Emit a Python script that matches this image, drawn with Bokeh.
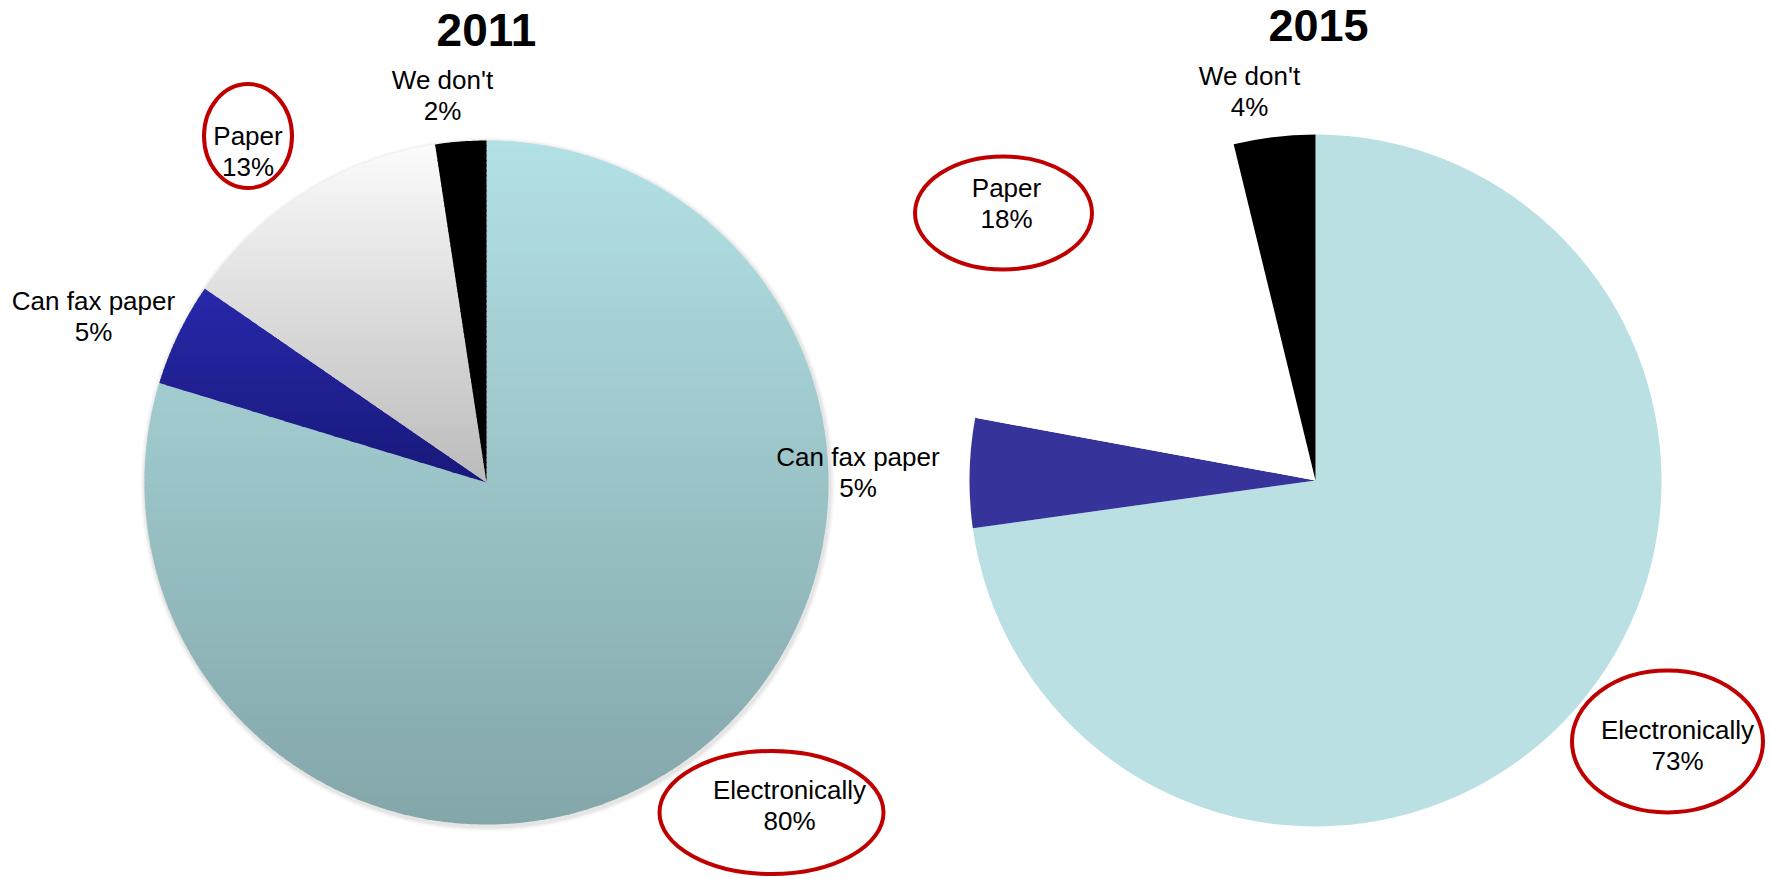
import numpy as np
from bokeh.plotting import figure
from bokeh.models import Range1d, ColumnDataSource
from bokeh.core.properties import value
from bokeh.embed import file_html
from bokeh.resources import INLINE

# ---------------- data ----------------
years = ["2011", "2015"]
categories = ["Electronically", "Can fax paper", "Paper", "We don't"]
# slice shares (%), as drawn; labels show them rounded
share_2011 = [79.7, 4.9, 13.0, 2.4]
share_2015 = [72.8, 5.1, 18.3, 3.8]
circled = ["Electronically", "Paper"]

# ---------------- styles / layout ----------------
# vertical gradients (top colour, bottom colour) for the 2011 slices
grad_2011 = [("#b2e1e5", "#83a6a9"),   # Electronically
             ("#2828ab", "#18187a"),   # Can fax paper
             ("#fbfbfb", "#bbbbbb"),   # Paper
             ("#000000", "#000000")]   # We don't
colors_2015 = ["#bae0e3", "#36339a", "#ffffff", "#000000"]

W, H = 1771, 879
LABEL_PX = 26
BASE_SHIFT = 0.36   # compensation of the text baseline offset (em)


def Y(page_y):
    return H - page_y


pies = {
    "2011": dict(cx=486, cy=Y(482), r=342),
    "2015": dict(cx=1315, cy=Y(480), r=346),
}
title_pos = {"2011": (486, 46.5, 46), "2015": (1318, 41, 45)}
# label anchor: (center x, baseline of first line) in page pixels
label_pos = {
    "2011": [(789, 799), (93, 310), (247.5, 145), (442, 89)],
    "2015": [(1677, 739), (857.5, 466), (1006, 197), (1249, 85)],
}
# ellipses around circled labels: (cx, cy, w, h) in page pixels
ellipse_pos = {
    "2011": {"Electronically": (771, 812, 224, 123), "Paper": (247.5, 135.5, 88, 104)},
    "2015": {"Electronically": (1667, 741, 191, 142), "Paper": (1003, 212.5, 177, 113)},
}
LINE_GAP = 30.5

p = figure(width=W, height=H, x_range=Range1d(0, W), y_range=Range1d(0, H),
           output_backend="svg", toolbar_location=None, min_border=0,
           x_axis_type=None, y_axis_type=None)
p.grid.visible = False
p.outline_line_color = None
p.background_fill_color = "white"
p.border_fill_color = "white"


def hex2rgb(h):
    h = h.lstrip("#")
    return np.array([int(h[i:i + 2], 16) for i in (0, 2, 4)], dtype=float)


def rgb2hex(c):
    c = np.clip(np.round(c), 0, 255).astype(int)
    return "#%02x%02x%02x" % tuple(c)


def clip_half(pts, y0, keep_above):
    out = []
    n = len(pts)
    for i in range(n):
        cur, prev = pts[i], pts[i - 1]
        cin = cur[1] >= y0 if keep_above else cur[1] <= y0
        pin = prev[1] >= y0 if keep_above else prev[1] <= y0
        if cin:
            if not pin:
                t = (y0 - prev[1]) / (cur[1] - prev[1])
                out.append((prev[0] + t * (cur[0] - prev[0]), y0))
            out.append(cur)
        elif pin:
            t = (y0 - prev[1]) / (cur[1] - prev[1])
            out.append((prev[0] + t * (cur[0] - prev[0]), y0))
    return out


def slice_angles(shares):
    cum = np.concatenate([[0], np.cumsum(shares)]) / float(sum(shares))
    start = np.pi / 2 - 2 * np.pi * cum[:-1]
    end = np.pi / 2 - 2 * np.pi * cum[1:]
    return start, end


# ---------------- 2011 pie (gradient fills) ----------------
g = pies["2011"]
for k, a in [(5, 0.04), (3.5, 0.06), (2, 0.08)]:
    p.circle(x=[g["cx"] + 1], y=[g["cy"] - 2], radius=g["r"] + k,
             fill_color="#666666", fill_alpha=a, line_color=None)

st, en = slice_angles(share_2011)
band_xs, band_ys, band_cols = [], [], []
for i, cat in enumerate(categories):
    th = np.linspace(st[i], en[i], max(int(abs(st[i] - en[i]) * 180 / np.pi * 2), 4))
    pts = [(g["cx"], g["cy"])] + [(g["cx"] + g["r"] * np.cos(t), g["cy"] + g["r"] * np.sin(t)) for t in th]
    ys = [q[1] for q in pts]
    ytop, ybot = max(ys), min(ys)
    ctop, cbot = hex2rgb(grad_2011[i][0]), hex2rgb(grad_2011[i][1])
    nb = max(int((ytop - ybot) / 5), 1)
    edges = np.linspace(ybot, ytop, nb + 1)
    for b in range(nb):
        lo, hi = edges[b] - 0.6, edges[b + 1] + 0.6
        poly = clip_half(pts, lo, True)
        if len(poly) < 3:
            continue
        poly = clip_half(poly, hi, False)
        if len(poly) < 3:
            continue
        ymid = 0.5 * (edges[b] + edges[b + 1])
        t = (ytop - ymid) / (ytop - ybot) if ytop > ybot else 0
        band_xs.append([q[0] for q in poly])
        band_ys.append([q[1] for q in poly])
        band_cols.append(rgb2hex(ctop + (cbot - ctop) * t))

p.patches(xs="xs", ys="ys", fill_color="c", line_color=None,
          source=ColumnDataSource(dict(xs=band_xs, ys=band_ys, c=band_cols)))

# ---------------- 2015 pie (flat fills) ----------------
g2 = pies["2015"]
st2, en2 = slice_angles(share_2015)
p.wedge(x=g2["cx"], y=g2["cy"], radius=g2["r"], start_angle="s", end_angle="e",
        direction="clock", fill_color="c", line_color=None,
        source=ColumnDataSource(dict(s=st2, e=en2, c=colors_2015)))

# ---------------- titles ----------------
for yr in years:
    tx, ty, fs = title_pos[yr]
    p.text(x=[tx], y=[Y(ty) + BASE_SHIFT * fs], text=[yr], text_font=value("Liberation Sans"),
           text_font_size="%dpx" % fs, text_font_style="bold", text_align="center",
           text_baseline="alphabetic", text_color="black")

# ---------------- labels ----------------
for yr, shares in zip(years, [share_2011, share_2015]):
    pos = label_pos[yr]
    xs = [q[0] for q in pos]
    y1 = [Y(q[1]) + BASE_SHIFT * LABEL_PX for q in pos]
    y2 = [Y(q[1] + LINE_GAP) + BASE_SHIFT * LABEL_PX for q in pos]
    pct = ["%d%%" % int(round(v)) for v in shares]
    p.text(x=xs, y=y1, text=categories, text_font=value("Liberation Sans"),
           text_font_size="%dpx" % LABEL_PX, text_align="center", text_baseline="alphabetic",
           text_color="black")
    p.text(x=xs, y=y2, text=pct, text_font=value("Liberation Sans"),
           text_font_size="%dpx" % LABEL_PX, text_align="center", text_baseline="alphabetic",
           text_color="black")
    ex, ey, ew, eh = [], [], [], []
    for cat in circled:
        cx, cy, w, h = ellipse_pos[yr][cat]
        ex.append(cx); ey.append(Y(cy)); ew.append(w); eh.append(h)
    p.ellipse(x=ex, y=ey, width=ew, height=eh, fill_color=None,
              line_color="#c00000", line_width=4)

open("out.html", "w").write(file_html(p, INLINE))
